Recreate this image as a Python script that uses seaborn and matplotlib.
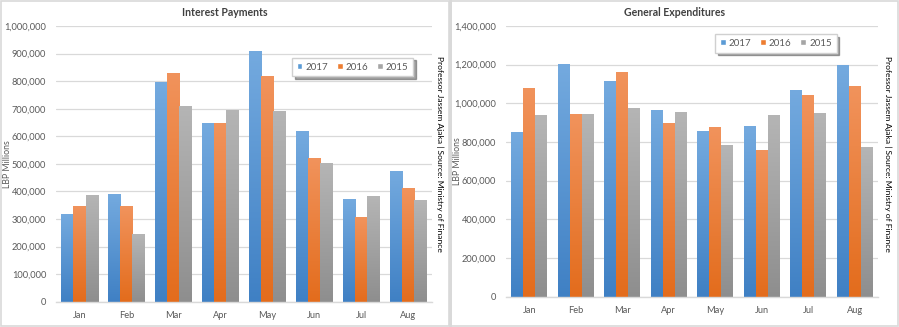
import numpy as np
import pandas as pd
import matplotlib
matplotlib.use("Agg")
import matplotlib.pyplot as plt
import seaborn as sns
from matplotlib.patches import Patch, Rectangle
from matplotlib.colors import LinearSegmentedColormap, to_rgb
from matplotlib.ticker import FuncFormatter, MultipleLocator

months = ["Jan", "Feb", "Mar", "Apr", "May", "Jun", "Jul", "Aug"]
years = ["2017", "2016", "2015"]

interest_2017 = [317000, 390000, 797000, 649000, 908000, 619000, 372000, 473000]
interest_2016 = [347000, 347000, 828000, 649000, 818000, 521000, 306000, 412000]
interest_2015 = [387000, 244000, 711000, 693000, 692000, 503000, 382000, 369000]

general_2017 = [848000, 1202000, 1112000, 964000, 857000, 881000, 1069000, 1195000]
general_2016 = [1076000, 946000, 1162000, 897000, 878000, 755000, 1043000, 1091000]
general_2015 = [936000, 946000, 977000, 952000, 783000, 936000, 950000, 774000]

colors = {"2017": "#5B9BD5", "2016": "#ED7D31", "2015": "#A5A5A5"}
grad = {"2017": ("#3F80C4", "#74AADF"),
        "2016": ("#E36C1C", "#F1935C"),
        "2015": ("#8E8E8E", "#B5B5B5")}


def long_df(a, b, c):
    rows = []
    for yr, vals in zip(years, [a, b, c]):
        for m, v in zip(months, vals):
            rows.append({"Month": m, "Year": yr, "Value": v})
    return pd.DataFrame(rows)


sns.set_theme(style="white")
plt.rcParams["font.family"] = ["Lato", "DejaVu Sans"]
text_col = "#595959"

fig = plt.figure(figsize=(8.99, 3.27), dpi=100)
fig.patch.set_facecolor("white")

# panel borders
fig.patches.append(Rectangle((0.001, 0.004), 0.4985, 0.994, transform=fig.transFigure,
                             fill=False, edgecolor="#D9D9D9", lw=1.2))
fig.patches.append(Rectangle((0.5015, 0.004), 0.4975, 0.994, transform=fig.transFigure,
                             fill=False, edgecolor="#D9D9D9", lw=1.2))

panels = [
    dict(df=long_df(interest_2017, interest_2016, interest_2015),
         rect=[0.0623, 0.0774, 0.418, 0.843], title="Interest Payments",
         ymax=1000000, step=100000, legend_anchor=(0.392, 0.795),
         note_x=0.4895, title_x=0.25, ylab_x=0.0085),
    dict(df=long_df(general_2017, general_2016, general_2015),
         rect=[0.5628, 0.0927, 0.4138, 0.828], title="General Expenditures",
         ymax=1400000, step=200000, legend_anchor=(0.863, 0.868),
         note_x=0.988, title_x=0.75, ylab_x=0.5085),
]

for pn in panels:
    ax = fig.add_axes(pn["rect"])
    sns.barplot(data=pn["df"], x="Month", y="Value", hue="Year",
                hue_order=years, order=months, palette=colors,
                width=0.77, gap=0, legend=False, ax=ax, errorbar=None,
                saturation=1)
    # gradient fill
    for p in list(ax.patches):
        fc = p.get_facecolor()[:3]
        key = min(colors, key=lambda k: sum((a - b) ** 2 for a, b in zip(to_rgb(colors[k]), fc)))
        cmap = LinearSegmentedColormap.from_list("g", [grad[key][0], grad[key][1]])
        x0, y0, w, h = p.get_x(), p.get_y(), p.get_width(), p.get_height()
        ax.imshow(np.linspace(0, 1, 256).reshape(-1, 1), cmap=cmap,
                  extent=[x0, x0 + w, y0, y0 + h], origin="lower",
                  aspect="auto", zorder=2, interpolation="bilinear")
        p.set_visible(False)
    ax.set_xlim(-0.5, 7.5)
    ax.set_ylim(0, pn["ymax"])
    ax.yaxis.set_major_locator(MultipleLocator(pn["step"]))
    ax.yaxis.set_major_formatter(FuncFormatter(lambda v, _: f"{int(v):,}"))
    ax.grid(axis="y", color="#D9D9D9", lw=0.9, zorder=0)
    ax.set_axisbelow(True)
    for s in ["top", "right", "left"]:
        ax.spines[s].set_visible(False)
    ax.spines["bottom"].set_color("#D9D9D9")
    ax.spines["bottom"].set_linewidth(1.0)
    ax.tick_params(axis="both", length=0, labelsize=6.7, colors=text_col)
    ax.tick_params(axis="y", pad=7)
    ax.tick_params(axis="x", pad=7)
    ax.set_xlabel("")
    ax.set_ylabel("")
    fig.text(pn["ylab_x"], pn["rect"][1] + pn["rect"][3] / 2, "LBP Millions",
             rotation=90, ha="center", va="center", fontsize=6.3, color=text_col)
    fig.text(pn["title_x"], 0.962, pn["title"], ha="center", va="center",
             fontsize=7.6, fontweight="bold", color="#404040")
    handles = [Patch(facecolor=colors[y], label=y) for y in years]
    leg = ax.legend(handles=handles, ncol=3, loc="center",
                    bbox_to_anchor=pn["legend_anchor"], bbox_transform=fig.transFigure,
                    fontsize=7, frameon=True, fancybox=False, shadow=True,
                    edgecolor="#D0D0D0", handlelength=0.6, handleheight=0.6,
                    handletextpad=0.3, columnspacing=0.9, borderpad=0.5)
    for t in leg.get_texts():
        t.set_color(text_col)
    fig.text(pn["note_x"], 0.53, "Professor Jassem Ajaka | Source: Ministry of Finance",
             rotation=-90, ha="center", va="center", fontsize=6.1, color="#000000")

# divider line between panels
fig.add_artist(plt.Line2D([0.5, 0.5], [0, 1], transform=fig.transFigure,
                          color="#D9D9D9", lw=2))

fig.savefig("out.png", dpi=100)
